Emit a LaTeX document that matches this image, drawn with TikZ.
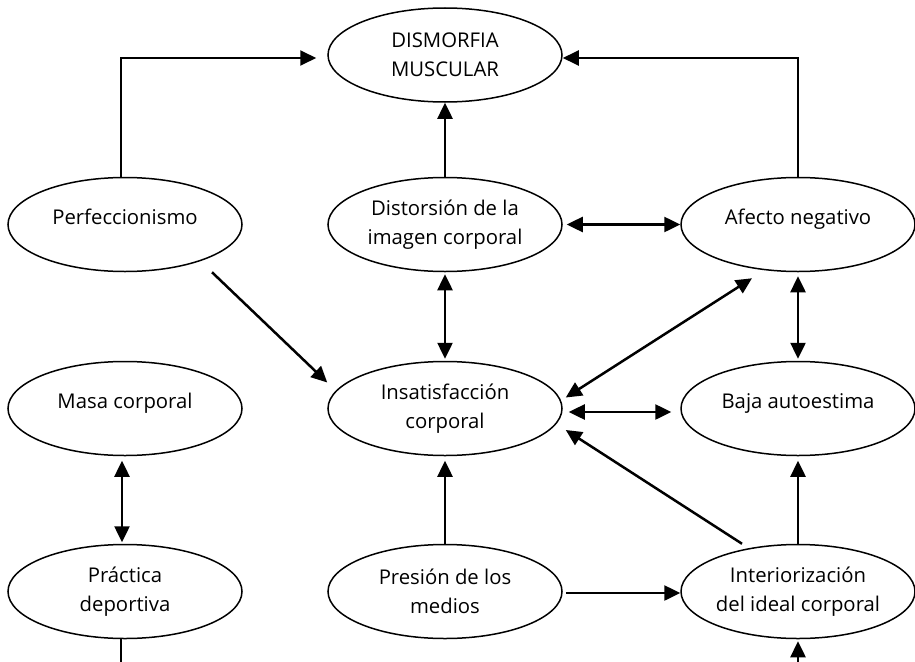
\documentclass[tikz,border=0pt]{standalone}
\usepackage{fontspec}
\setmainfont{Open Sans}
\usetikzlibrary{arrows.meta,shapes.geometric}
\begin{document}
\begin{tikzpicture}[x=1pt,y=-1pt,
  oval/.style={ellipse,draw,line width=1.5pt,minimum width=234pt,minimum height=94pt,
    inner sep=0pt,font=\fontsize{20.3pt}{29pt}\selectfont},
  one/.style={text height=15pt,text depth=15pt},
  two/.style={align=center},
  tip/.tip={Triangle[length=16pt,width=15pt]},
  arr/.style={line width=2.5pt,-tip},
  darr/.style={line width=2.5pt,tip-tip},
  elb/.style={line width=1.9pt,-tip},
  plain/.style={line width=1.9pt}]
\useasboundingbox (0,0) rectangle (915,661);

\node[oval,two] (dis)  at (445,55)    {DISMORFIA\\MUSCULAR};
\node[oval,one] (perf) at (125,224.5) {Perfeccionismo};
\node[oval,two] (dist) at (445,224.5) {Distorsión de la\\imagen corporal};
\node[oval,one] (afe)  at (798,224.5) {Afecto negativo};
\node[oval,one] (masa) at (125,408.5) {Masa corporal};
\node[oval,two] (ins)  at (445,408.5) {Insatisfacción\\corporal};
\node[oval,one] (baja) at (798,408.5) {Baja autoestima};
\node[oval,two] (prac) at (125,591.5) {Práctica\\deportiva};
\node[oval,two] (pres) at (445,591.5) {Presión de los\\medios};
\node[oval,two] (inte) at (798,591.5) {Interiorización\\del ideal corporal};

\coordinate (pend) at (121,668);
\coordinate (iend) at (798,668);

\draw[elb] ([xshift=-4pt]perf.north) |- ([xshift=-11pt,yshift=-3pt]dis.west);
\draw[elb] (afe.north) |- ([yshift=-3pt]dis.east);
\draw[arr] (dist.north) -- (dis.south);
\draw[darr] ([xshift=4pt]dist.east) -- (afe.west);
\draw[darr] ([yshift=-2pt]dist.south) -- ([yshift=2pt]ins.north);
\draw[arr] ([xshift=87pt]perf.south) -- ([yshift=26pt]ins.west);
\draw[darr] ([xshift=3pt,yshift=11pt]ins.east) -- ([xshift=-46pt,yshift=-6pt]afe.south);
\draw[darr] ([yshift=-4pt]afe.south) -- ([yshift=2pt]baja.north);
\draw[darr] ([xshift=6pt,yshift=-3.5pt]ins.east) -- ([xshift=-9pt,yshift=-3.5pt]baja.west);
\draw[darr] ([xshift=-3pt,yshift=-4.5pt]masa.south) -- ([xshift=-3pt,yshift=1.5pt]prac.north);
\draw[arr] (pres.north) -- ([yshift=-4.5pt]ins.south);
\draw[arr] ([xshift=-56pt]inte.north) -- ([xshift=3pt,yshift=-21.5pt]ins.east);
\draw[arr] (inte.north) -- ([yshift=-4.5pt]baja.south);
\draw[arr] ([xshift=3pt,yshift=-1.5pt]pres.east) -- ([yshift=-1.5pt]inte.west);
\draw[plain] ([xshift=-4pt]prac.south) -- (pend);
\draw[arr] (iend) -- ([yshift=-2pt]inte.south);
\end{tikzpicture}
\end{document}
